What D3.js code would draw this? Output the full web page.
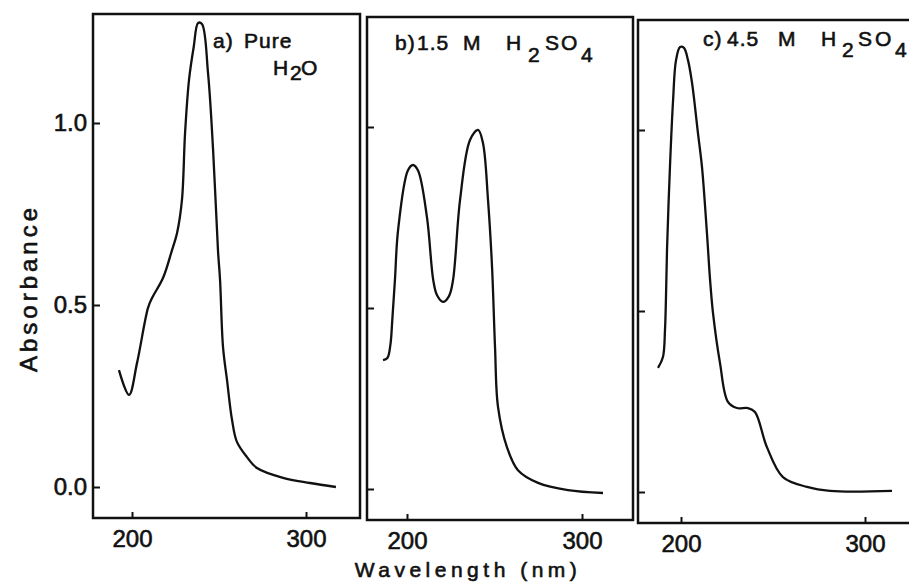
<!DOCTYPE html>
<html>
<head>
<meta charset="utf-8">
<title>Absorbance spectra</title>
<script src="https://cdn.jsdelivr.net/npm/d3@7"></script>
<style>
body {
  margin: 0;
  background: #fff;
}
svg text {
  font-family: "Liberation Sans", Arial, sans-serif;
  fill: #111;
  stroke: #111;
  stroke-width: 0.6;
}
.box {
  fill: none;
  stroke: #111;
  stroke-width: 2.5;
}
.curve {
  fill: none;
  stroke: #111;
  stroke-width: 2.3;
  stroke-linejoin: round;
}
.axis path.domain { display: none; }
.axis line { stroke: #111; stroke-width: 2; }
.axis text { font-size: 24px; }
</style>
</head>
<body>
<div id="chart"></div>
<script>
// values
var xTicks = [200, 300];
var yTicks = [0, 0.5, 1.0];
var yTickLabels = ["0.0", "0.5", "1.0"];

// a) pure water
var waveA = [192.5, 198.3, 202.9, 209.2, 211.5, 217.8, 223.0, 225.9, 228.7, 230.5, 232.8, 235.5, 238.0, 240.2, 243.7, 246.6, 249.4, 250.6, 252.3, 254.6, 257.5, 260.3, 266.1, 271.8, 286.8, 302.3, 317.2];
var absA  = [0.321, 0.253, 0.341, 0.492, 0.519, 0.574, 0.651, 0.698, 0.788, 0.973, 1.120, 1.210, 1.275, 1.272, 1.137, 0.926, 0.651, 0.569, 0.385, 0.294, 0.184, 0.124, 0.082, 0.052, 0.025, 0.011, 0.0];

// b) 1.5 M H2SO4
var waveB = [186.3, 188.8, 190.5, 191.6, 193.1, 194.9, 200.5, 203.4, 206.3, 211.4, 215.0, 217.1, 220.6, 224.0, 226.3, 230.3, 236.0, 240.6, 243.4, 246.3, 248.6, 250.3, 252.0, 257.1, 263.4, 274.9, 292.0, 312.0];
var absB  = [0.356, 0.362, 0.398, 0.467, 0.577, 0.715, 0.880, 0.895, 0.880, 0.751, 0.577, 0.536, 0.517, 0.533, 0.577, 0.798, 0.964, 0.992, 0.956, 0.798, 0.613, 0.392, 0.227, 0.116, 0.052, 0.017, -0.003, -0.011];

// c) 4.5 M H2SO4
var waveC = [187.5, 190.2, 191.3, 191.8, 192.4, 194.0, 195.7, 197.3, 199.5, 201.6, 203.8, 206.0, 209.2, 211.4, 214.1, 215.8, 217.4, 221.2, 225.5, 230.4, 236.4, 240.2, 246.7, 255.4, 268.5, 281.0, 314.7];
var absC  = [0.343, 0.373, 0.448, 0.530, 0.669, 0.898, 1.083, 1.193, 1.229, 1.227, 1.193, 1.130, 0.992, 0.898, 0.715, 0.586, 0.494, 0.356, 0.249, 0.232, 0.232, 0.221, 0.124, 0.041, 0.014, 0.003, 0.003];

// panel geometry (pixel placement of each scanned box)
var panels = [
  {wave: waveA, abs: absA, box: [93, 14, 360, 518], xr: [132, 306], yr: [487, 123], labels: true,
   title: [{y: 48, parts: [["a)", 213, 0], ["Pure", 244, 0]]},
           {y: 75, parts: [["H", 273, 0], ["2", 290, 5], ["O", 301, 0]]}]},
  {wave: waveB, abs: absB, box: [367, 17, 633, 520], xr: [407, 582], yr: [489, 127], labels: false,
   title: [{y: 50, parts: [["b)", 395, 0], ["1.5", 417, 0], ["M", 463, 0], ["H", 506, 0], ["2", 528, 12], ["S", 545, 0], ["O", 561, 0], ["4", 581, 12]]}]},
  {wave: waveC, abs: absC, box: [638, 20, 930, 523], xr: [681, 865], yr: [492, 130], labels: false,
   title: [{y: 46, parts: [["c)", 703, 0], ["4.5", 727, 0], ["M", 778, 0], ["H", 821, 0], ["2", 842, 11], ["S", 858, 0], ["O", 875, 0], ["4", 895, 11]]}]}
];

var svg = d3.select("#chart").append("svg")
  .attr("width", 909)
  .attr("height", 585);

panels.forEach(function(p) {
  var x = d3.scaleLinear().domain([200, 300]).range(p.xr);
  var y = d3.scaleLinear().domain([0, 1]).range(p.yr);
  var g = svg.append("g");

  g.append("rect")
    .attr("class", "box")
    .attr("x", p.box[0])
    .attr("y", p.box[1])
    .attr("width", p.box[2] - p.box[0])
    .attr("height", p.box[3] - p.box[1]);

  var yAxis = d3.axisLeft(y)
    .tickValues(yTicks)
    .tickSizeInner(-7)
    .tickSizeOuter(0)
    .tickPadding(6)
    .tickFormat(function(d, i) { return p.labels ? yTickLabels[i] : ""; });
  g.append("g")
    .attr("class", "axis")
    .attr("transform", "translate(" + p.box[0] + ",0)")
    .call(yAxis);

  var xAxis = d3.axisBottom(x)
    .tickValues(xTicks)
    .tickSizeInner(-6)
    .tickSizeOuter(0)
    .tickPadding(12)
    .tickFormat(d3.format("d"));
  g.append("g")
    .attr("class", "axis")
    .attr("transform", "translate(0," + p.box[3] + ")")
    .call(xAxis);

  var pts = p.wave.map(function(w, i) { return [w, p.abs[i]]; });
  var line = d3.line()
    .x(function(d) { return x(d[0]); })
    .y(function(d) { return y(d[1]); })
    .curve(d3.curveCatmullRom.alpha(0.5));
  g.append("path")
    .attr("class", "curve")
    .attr("d", line(pts));

  p.title.forEach(function(row) {
    var t = g.append("text")
      .attr("font-size", 21)
      .attr("letter-spacing", 1);
    row.parts.forEach(function(part) {
      t.append("tspan")
        .attr("x", part[1])
        .attr("y", row.y + part[2])
        .text(part[0]);
    });
  });
});

svg.append("text")
  .attr("transform", "translate(37,288) rotate(-90)")
  .attr("text-anchor", "middle")
  .attr("font-size", 24)
  .attr("letter-spacing", 4)
  .text("Absorbance");

svg.append("text")
  .attr("x", 468)
  .attr("y", 577)
  .attr("text-anchor", "middle")
  .attr("font-size", 21)
  .attr("letter-spacing", 4.5)
  .text("Wavelength (nm)");
</script>
</body>
</html>
